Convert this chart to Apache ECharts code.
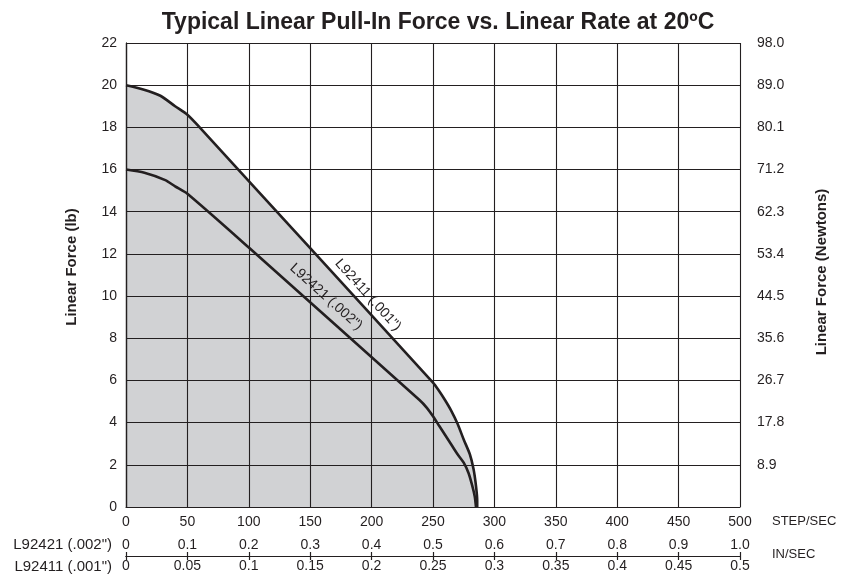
<!DOCTYPE html>
<html>
<head>
<meta charset="utf-8">
<script src="https://cdn.jsdelivr.net/npm/echarts@6/dist/echarts.min.js"></script>
<style>html,body{margin:0;padding:0;background:#fff}#c{width:852px;height:577px}</style>
</head>
<body>
<div id="c"></div>
<script>
// ---- data ----
const stepRateTicks = [0, 50, 100, 150, 200, 250, 300, 350, 400, 450, 500];
const inSec002Labels = ['0', '0.1', '0.2', '0.3', '0.4', '0.5', '0.6', '0.7', '0.8', '0.9', '1.0'];
const inSec001Labels = ['0', '0.05', '0.1', '0.15', '0.2', '0.25', '0.3', '0.35', '0.4', '0.45', '0.5'];
const newtonLabels = ['', '8.9', '17.8', '26.7', '35.6', '44.5', '53.4', '62.3', '71.2', '80.1', '89.0', '98.0'];

// L92411 (.001") : [step/sec, lb]
const l92411Rate  = [0, 14, 28, 40, 50, 60, 150, 250, 255, 260, 265, 270, 275, 280, 283, 285, 286, 286];
const l92411Force = [20, 19.8, 19.5, 19.0, 18.6, 18.0, 12.27, 5.9, 5.5, 5.05, 4.55, 3.95, 3.2, 2.5, 1.8, 1.0, 0.3, 0];
// L92421 (.002") : [step/sec, lb]
const l92421Rate  = [0, 15, 32, 40, 50, 100, 239, 245, 250, 255, 260, 265, 270, 275, 279, 282, 284, 285];
const l92421Force = [16, 15.85, 15.5, 15.2, 14.85, 12.3, 5.07, 4.7, 4.3, 3.85, 3.4, 2.95, 2.5, 2.1, 1.6, 1.0, 0.5, 0];

const upper = l92411Rate.map((x, i) => [x, l92411Force[i]]);
const lower = l92421Rate.map((x, i) => [x, l92421Force[i]]);

const FONT = 'Liberation Sans, Arial, Helvetica, sans-serif';
const INK = '#231f20';
const FS = 14;

const chart = echarts.init(document.getElementById('c'), null, {renderer: 'canvas'});
const option = {
  backgroundColor: '#fff',
  animation: false,
  title: {
    text: 'Typical Linear Pull-In Force vs. Linear Rate at 20ºC',
    left: 433, top: 6, textAlign: 'center',
    textStyle: {fontFamily: FONT, fontSize: 23, fontWeight: 'bold', color: INK}
  },
  grid: {left: 126, right: 112, top: 43, bottom: 70, containLabel: false},
  xAxis: [
    {
      type: 'value', min: 0, max: 500, interval: 50, z: 2,
      axisLine: {show: true, lineStyle: {color: INK, width: 1.2}},
      axisTick: {show: false},
      splitLine: {show: true, lineStyle: {color: INK, width: 1.1}},
      axisLabel: {margin: 8, fontFamily: FONT, fontSize: FS, color: INK,
        formatter: v => String(stepRateTicks[Math.round(v / 50)])}
    },
    {
      type: 'value', min: 0, max: 1.0, interval: 0.1, position: 'bottom', offset: 49, z: 2,
      axisLine: {show: true, onZero: false, lineStyle: {color: INK, width: 1.2}},
      axisTick: {show: true, inside: true, length: 4, lineStyle: {color: INK, width: 1.2}},
      splitLine: {show: false},
      axisLabel: {inside: true, margin: 4, fontFamily: FONT, fontSize: FS, color: INK,
        formatter: v => inSec002Labels[Math.round(v / 0.1)]}
    },
    {
      type: 'value', min: 0, max: 0.5, interval: 0.05, position: 'bottom', offset: 49, z: 2,
      axisLine: {show: true, onZero: false, lineStyle: {color: INK, width: 1.2}},
      axisTick: {show: true, inside: false, length: 4, lineStyle: {color: INK, width: 1.2}},
      splitLine: {show: false},
      axisLabel: {margin: 3, fontFamily: FONT, fontSize: FS, color: INK,
        formatter: v => inSec001Labels[Math.round(v / 0.05)]}
    }
  ],
  yAxis: [
    {
      type: 'value', min: 0, max: 22, interval: 2, z: 2,
      axisLine: {show: true, lineStyle: {color: INK, width: 1.2}},
      axisTick: {show: false},
      splitLine: {show: true, lineStyle: {color: INK, width: 1.1}},
      axisLabel: {margin: 9, fontFamily: FONT, fontSize: FS, color: INK}
    },
    {
      type: 'value', min: 0, max: 22, interval: 2, position: 'right', z: 2,
      axisLine: {show: true, lineStyle: {color: INK, width: 1.2}},
      axisTick: {show: false},
      splitLine: {show: false},
      axisLabel: {margin: 17, fontFamily: FONT, fontSize: FS, color: INK,
        formatter: v => newtonLabels[Math.round(v / 2)]}
    }
  ],
  series: [
    {
      name: 'fill', type: 'line', xAxisIndex: 0, yAxisIndex: 0, z: 1,
      data: upper, smooth: 0.25, symbol: 'none',
      lineStyle: {width: 0, opacity: 0},
      areaStyle: {color: '#d1d2d4', opacity: 1}
    },
    {
      name: 'L92411 (.001")', type: 'line', xAxisIndex: 0, yAxisIndex: 0, z: 5,
      data: upper, smooth: 0.25, symbol: 'none',
      lineStyle: {color: INK, width: 2.6},
      markPoint: {
        symbol: 'circle', symbolSize: 0,
        label: {show: true, position: 'inside', rotate: -48, formatter: 'L92411 (.001")',
          fontFamily: FONT, fontSize: FS, color: INK},
        data: [{coord: [197, 10.05]}]
      }
    },
    {
      name: 'L92421 (.002")', type: 'line', xAxisIndex: 0, yAxisIndex: 0, z: 5,
      data: lower, smooth: 0.25, symbol: 'none',
      lineStyle: {color: INK, width: 2.6},
      markPoint: {
        symbol: 'circle', symbolSize: 0,
        label: {show: true, position: 'inside', rotate: -42, formatter: 'L92421 (.002")',
          fontFamily: FONT, fontSize: FS, color: INK},
        data: [{coord: [163, 9.96]}]
      }
    }
  ],
  graphic: [
    {type: 'text', x: 72, y: 267, rotation: Math.PI / 2,
      style: {text: 'Linear Force (lb)', fontFamily: FONT, fontSize: 15, fontWeight: 'bold', fill: INK, align: 'center', verticalAlign: 'middle'}},
    {type: 'text', x: 822, y: 272, rotation: Math.PI / 2,
      style: {text: 'Linear Force (Newtons)', fontFamily: FONT, fontSize: 15, fontWeight: 'bold', fill: INK, align: 'center', verticalAlign: 'middle'}},
    {type: 'text', left: 772, top: 515, style: {text: 'STEP/SEC', fontFamily: FONT, fontSize: 13, fill: INK}},
    {type: 'text', left: 772, top: 548, style: {text: 'IN/SEC', fontFamily: FONT, fontSize: 13, fill: INK}},
    {type: 'text', right: 740, top: 537, style: {text: 'L92421 (.002")', fontFamily: FONT, fontSize: 15, fill: INK}},
    {type: 'text', right: 740, top: 559, style: {text: 'L92411 (.001")', fontFamily: FONT, fontSize: 15, fill: INK}}
  ]
};
chart.setOption(option);
</script>
</body>
</html>
